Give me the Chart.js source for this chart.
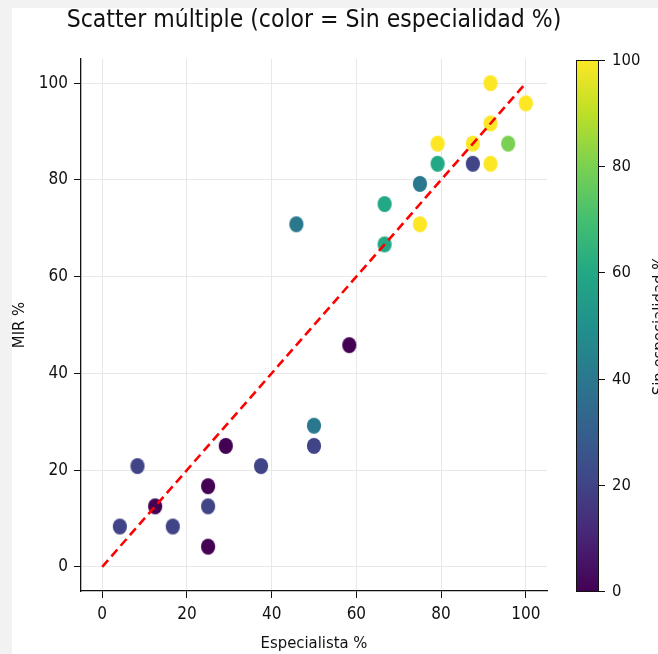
<!DOCTYPE html>
<html>
<head>
<meta charset="utf-8">
<script src="https://cdn.jsdelivr.net/npm/chart.js@4"></script>
<style>
  html, body { margin: 0; padding: 0; background: #f2f2f2; }
  #wrap { position: absolute; left: 12px; top: 8px; width: 646px; height: 646px; background: #fff; }
</style>
</head>
<body>
<div id="wrap"><canvas id="scatterChart" width="646" height="646"></canvas></div>
<script>
// values (percentages)
const especialista = [4.17, 8.33, 12.5, 16.67, 25, 25, 25, 29.17, 37.5, 45.83, 50, 50, 58.33,
                      66.67, 66.67, 75, 75, 79.17, 79.17, 87.5, 87.5, 91.67, 91.67, 91.67, 95.83, 100];
const mir =          [8.33, 20.83, 12.5, 8.33, 4.17, 12.5, 16.67, 25, 20.83, 70.83, 25, 29.17, 45.83,
                      66.67, 75, 70.83, 79.17, 83.33, 87.5, 83.33, 87.5, 83.33, 91.67, 100, 87.5, 95.83];
const sinEspecialidad = [20, 20, 0, 20, 0, 20, 0, 0, 20, 40, 20, 40, 0,
                         60, 60, 100, 40, 60, 100, 20, 100, 100, 100, 100, 80, 100];
const refLine = [0, 100];
const xTicks = [0, 20, 40, 60, 80, 100];
const yTicks = [0, 20, 40, 60, 80, 100];
const cbTicks = [0, 20, 40, 60, 80, 100];

const FONT = "'DejaVu Sans Condensed', 'Liberation Sans Narrow', 'DejaVu Sans', sans-serif";
const viridis = ['#440154', '#482475', '#414487', '#355f8d', '#2a788e', '#21918c',
                 '#22a884', '#44bf70', '#7ad151', '#bddf26', '#fde725'];

function hexToRgb(h) {
    return [1, 3, 5].map(i => parseInt(h.substr(i, 2), 16));
}
function viridisColor(v) {
    const t = Math.max(0, Math.min(1, v / 100)) * (viridis.length - 1);
    const i = Math.min(Math.floor(t), viridis.length - 2);
    const f = t - i;
    const a = hexToRgb(viridis[i]), b = hexToRgb(viridis[i + 1]);
    const c = a.map((x, k) => Math.round(x + (b[k] - x) * f));
    return `rgb(${c[0]},${c[1]},${c[2]})`;
}

// slightly tall ellipse markers, like the reference
const markerCache = {};
function marker(v) {
    if (markerCache[v]) return markerCache[v];
    const c = document.createElement('canvas');
    c.width = 16; c.height = 18;
    const g = c.getContext('2d');
    g.fillStyle = viridisColor(v);
    g.beginPath();
    g.ellipse(8, 9, 7.1, 8.1, 0, 0, Math.PI * 2);
    g.fill();
    markerCache[v] = c;
    return c;
}

const points = especialista.map((x, i) => ({ x: x, y: mir[i] }));

const extras = {
    id: 'extras',
    afterDraw(chart) {
        const { ctx, chartArea: a } = chart;
        ctx.save();
        ctx.fillStyle = '#111';
        ctx.font = `24.5px ${FONT}`;
        ctx.textAlign = 'center';
        ctx.textBaseline = 'middle';
        ctx.fillText('Scatter múltiple (color = Sin especialidad %)', (a.left + a.right) / 2, 13);

        // colorbar
        const x0 = a.right + 29, w = 22, top = a.top + 1, bot = a.bottom;
        const grad = ctx.createLinearGradient(0, bot, 0, top);
        viridis.forEach((c, i) => grad.addColorStop(i / (viridis.length - 1), c));
        ctx.fillStyle = grad;
        ctx.fillRect(x0, top, w, bot - top);
        ctx.strokeStyle = '#111';
        ctx.lineWidth = 1;
        ctx.strokeRect(x0 + 0.5, top + 0.5, w, bot - top);

        ctx.font = `16.5px ${FONT}`;
        ctx.textAlign = 'left';
        ctx.fillStyle = '#111';
        cbTicks.forEach(v => {
            const y = Math.round(bot - (v / 100) * (bot - top)) + 0.5;
            ctx.beginPath();
            ctx.moveTo(x0 + w, y);
            ctx.lineTo(x0 + w + 7, y);
            ctx.stroke();
            ctx.fillText(String(v), x0 + w + 14, y);
        });

        ctx.font = `16.5px ${FONT}`;
        ctx.translate(648, (top + bot) / 2);
        ctx.rotate(-Math.PI / 2);
        ctx.textAlign = 'center';
        ctx.fillText('Sin especialidad %', 0, 0);
        ctx.restore();
    }
};

const ctx = document.getElementById('scatterChart').getContext('2d');
new Chart(ctx, {
    type: 'scatter',
    data: {
        datasets: [
            {
                type: 'line',
                label: 'y = x',
                data: refLine.map(v => ({ x: v, y: v })),
                borderColor: '#ff0000',
                borderWidth: 2.6,
                borderDash: [9, 5],
                pointRadius: 0,
                fill: false
            },
            {
                label: 'Centros',
                data: points,
                pointStyle: c => marker(sinEspecialidad[c.dataIndex]),
                pointRadius: 8,
                backgroundColor: c => viridisColor(sinEspecialidad[c.dataIndex]),
                borderWidth: 0
            }
        ]
    },
    options: {
        responsive: false,
        animation: false,
        events: [],
        layout: { padding: { top: 51, right: 111, left: 0, bottom: 0 } },
        plugins: {
            legend: { display: false },
            tooltip: { enabled: false }
        },
        scales: {
            x: {
                type: 'linear',
                min: -5,
                max: 105,
                afterBuildTicks: s => { s.ticks = xTicks.map(v => ({ value: v })); },
                afterFit: s => { s.height = 63; },
                grid: { color: '#e8e8e8', lineWidth: 1, tickColor: '#111', tickLength: 7 },
                border: { display: true, color: '#111', width: 1.3 },
                ticks: { color: '#111', padding: 6, font: { family: FONT, size: 17 } },
                title: {
                    display: true,
                    text: 'Especialista %',
                    color: '#111',
                    padding: { top: 0, bottom: 0 },
                    font: { family: FONT, size: 16.5, lineHeight: 1.2 }
                }
            },
            y: {
                type: 'linear',
                min: -5,
                max: 105,
                afterBuildTicks: s => { s.ticks = yTicks.map(v => ({ value: v })); },
                afterFit: s => { s.width = 69; },
                grid: { color: '#e8e8e8', lineWidth: 1, tickColor: '#111', tickLength: 7 },
                border: { display: true, color: '#111', width: 1.3 },
                ticks: { color: '#111', padding: 6, font: { family: FONT, size: 17 } },
                title: {
                    display: true,
                    text: 'MIR %',
                    color: '#111',
                    padding: { top: 0, bottom: 0 },
                    font: { family: FONT, size: 16.5, lineHeight: 0.9 }
                }
            }
        }
    },
    plugins: [extras]
});
</script>
</body>
</html>
